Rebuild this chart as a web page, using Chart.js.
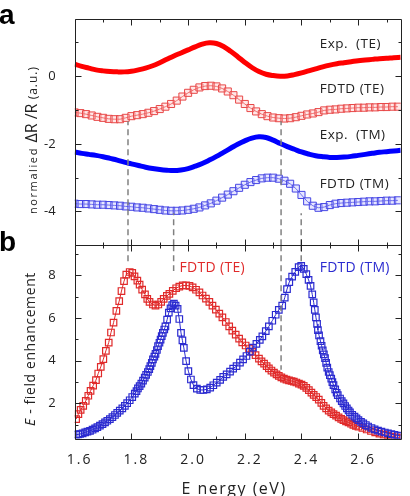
<!DOCTYPE html>
<html><head><meta charset="utf-8">
<script src="https://cdn.jsdelivr.net/npm/chart.js@4/dist/chart.umd.min.js"></script>
<style>
html,body{margin:0;padding:0;background:#fff;}
#wrap{position:relative;width:410px;height:496px;overflow:hidden;font-family:"Open Sans",sans-serif;}
canvas{position:absolute;left:0;top:0;}
.lab{position:absolute;font-family:"Liberation Sans",Arial,sans-serif;font-weight:bold;font-size:28px;line-height:1;color:#000;}
.yt{position:absolute;white-space:nowrap;transform:translate(-50%,-50%) rotate(-90deg);color:#222;line-height:1;}
.xt{position:absolute;white-space:nowrap;transform:translate(-50%,-50%);color:#222;font-size:16px;letter-spacing:1.5px;}
</style></head>
<body><div id="wrap"><canvas id="c" width="410" height="496"></canvas>
<div class="lab" style="left:-1px;top:1px">a</div>
<div class="lab" style="left:-1px;top:228px">b</div>
<div class="yt" style="left:31px;top:140px"><span style="font-size:11px;letter-spacing:1.6px">normalied </span><span style="font-size:16px">ΔR /R </span><span style="font-size:12px;letter-spacing:1px">(a.u.)</span></div>
<div class="yt" style="left:30px;top:349px;font-size:14px;letter-spacing:0.6px"><i>E</i> - field enhancement</div>
<div class="xt" style="left:234px;top:488px">E nergy (eV)</div>
</div>
<script>
// ---------- tick labels ----------
const xTicks = [1.6, 1.8, 2.0, 2.2, 2.4, 2.6];
const xMinor = [1.7, 1.9, 2.1, 2.3, 2.5, 2.7];
const topTicks = [0, -2, -4];
const topMinor = [1, -1, -3];
const botTicks = [2, 4, 6, 8];
const botMinor = [1, 3, 5, 7, 9];

// ---------- panel a: experiment (solid lines) ----------
const expE = [1.600,1.625,1.650,1.675,1.700,1.725,1.750,1.775,1.800,1.825,1.850,1.875,1.900,1.925,1.950,1.975,2.000,2.025,2.050,2.075,2.100,2.125,2.150,2.175,2.200,2.225,2.250,2.275,2.300,2.325,2.350,2.375,2.400,2.425,2.450,2.475,2.500,2.525,2.550,2.575,2.600,2.625,2.650,2.675,2.700,2.725,2.750];
const expTE = [0.36,0.29,0.24,0.19,0.16,0.14,0.13,0.13,0.15,0.19,0.24,0.31,0.40,0.50,0.60,0.69,0.78,0.87,0.95,0.99,0.97,0.88,0.74,0.58,0.41,0.26,0.14,0.06,0.02,0.00,0.01,0.05,0.10,0.16,0.22,0.28,0.33,0.37,0.40,0.43,0.46,0.48,0.50,0.52,0.53,0.55,0.56];
const expTM = [-2.24,-2.28,-2.31,-2.34,-2.38,-2.43,-2.48,-2.54,-2.59,-2.64,-2.69,-2.73,-2.76,-2.78,-2.79,-2.77,-2.73,-2.66,-2.58,-2.48,-2.37,-2.25,-2.13,-2.01,-1.91,-1.83,-1.79,-1.81,-1.89,-1.99,-2.08,-2.16,-2.24,-2.30,-2.35,-2.38,-2.40,-2.40,-2.39,-2.37,-2.34,-2.31,-2.28,-2.25,-2.23,-2.21,-2.19];

// ---------- panel a: FDTD (squares) ----------
const simE = [1.60,1.62,1.64,1.66,1.68,1.70,1.72,1.74,1.76,1.78,1.80,1.82,1.84,1.86,1.88,1.90,1.92,1.94,1.96,1.98,2.00,2.02,2.04,2.06,2.08,2.10,2.12,2.14,2.16,2.18,2.20,2.22,2.24,2.26,2.28,2.30,2.32,2.34,2.36,2.38,2.40,2.42,2.44,2.46,2.48,2.50,2.52,2.54,2.56,2.58,2.60,2.62,2.64,2.66,2.68,2.70,2.72,2.74];
const simTE = [-1.07,-1.09,-1.12,-1.16,-1.20,-1.23,-1.26,-1.27,-1.27,-1.23,-1.18,-1.15,-1.12,-1.08,-1.03,-0.97,-0.90,-0.82,-0.72,-0.60,-0.49,-0.40,-0.33,-0.29,-0.28,-0.30,-0.36,-0.45,-0.56,-0.69,-0.82,-0.94,-1.04,-1.12,-1.18,-1.22,-1.24,-1.25,-1.24,-1.21,-1.17,-1.13,-1.10,-1.06,-1.01,-0.99,-0.98,-0.96,-0.95,-0.94,-0.93,-0.93,-0.92,-0.92,-0.91,-0.91,-0.90,-0.90];
const simTM = [-3.77,-3.78,-3.78,-3.79,-3.80,-3.80,-3.81,-3.82,-3.83,-3.85,-3.86,-3.88,-3.89,-3.91,-3.93,-3.95,-3.97,-3.98,-3.98,-3.97,-3.95,-3.92,-3.88,-3.82,-3.76,-3.68,-3.59,-3.50,-3.40,-3.30,-3.21,-3.13,-3.07,-3.02,-3.00,-3.00,-3.03,-3.09,-3.18,-3.32,-3.51,-3.70,-3.83,-3.89,-3.87,-3.81,-3.77,-3.75,-3.74,-3.73,-3.72,-3.71,-3.70,-3.70,-3.69,-3.68,-3.68,-3.67];

// ---------- panel b: E-field enhancement ----------
const teE = [1.605,1.613,1.621,1.630,1.639,1.648,1.656,1.665,1.675,1.683,1.692,1.701,1.710,1.720,1.728,1.737,1.747,1.757,1.765,1.774,1.782,1.794,1.803,1.811,1.821,1.829,1.838,1.848,1.856,1.864,1.876,1.885,1.895,1.905,1.914,1.925,1.934,1.946,1.958,1.969,1.981,1.993,2.005,2.016,2.028,2.040,2.051,2.063,2.075,2.086,2.098,2.110,2.121,2.133,2.145,2.156,2.168,2.180,2.191,2.203,2.215,2.226,2.238,2.250,2.259,2.268,2.277,2.285,2.294,2.303,2.312,2.320,2.329,2.338,2.347,2.356,2.365,2.373,2.382,2.391,2.400,2.408,2.417,2.426,2.435,2.443,2.452,2.461,2.470,2.478,2.487,2.496,2.505,2.513,2.522,2.531,2.540,2.548,2.557,2.566,2.575,2.583,2.592,2.601,2.615,2.630,2.645,2.660,2.675,2.690,2.705,2.720,2.735,2.750];
const teV = [1.27,1.50,1.70,1.89,2.12,2.36,2.59,2.83,3.09,3.40,3.71,4.07,4.46,4.85,5.32,5.78,6.33,6.79,7.26,7.72,8.03,8.15,8.11,7.95,7.75,7.56,7.33,7.10,6.89,6.75,6.63,6.58,6.63,6.75,6.89,7.03,7.13,7.27,7.39,7.47,7.52,7.52,7.50,7.43,7.32,7.20,7.05,6.90,6.75,6.58,6.39,6.20,6.03,5.81,5.61,5.41,5.22,5.03,4.86,4.71,4.57,4.41,4.26,4.10,3.97,3.86,3.75,3.64,3.54,3.44,3.36,3.29,3.22,3.16,3.11,3.08,3.05,3.02,2.98,2.93,2.88,2.82,2.73,2.62,2.51,2.40,2.30,2.18,2.03,1.89,1.77,1.66,1.58,1.50,1.43,1.35,1.28,1.22,1.16,1.11,1.05,1.00,0.95,0.91,0.85,0.78,0.71,0.65,0.59,0.54,0.49,0.45,0.41,0.38];
const tmE = [1.605,1.612,1.619,1.628,1.637,1.645,1.654,1.663,1.672,1.680,1.689,1.698,1.707,1.715,1.724,1.733,1.742,1.750,1.759,1.768,1.777,1.785,1.794,1.803,1.812,1.818,1.823,1.829,1.835,1.841,1.847,1.852,1.858,1.863,1.867,1.872,1.876,1.881,1.885,1.890,1.894,1.899,1.903,1.907,1.911,1.916,1.920,1.926,1.932,1.938,1.944,1.950,1.956,1.963,1.969,1.975,1.980,1.985,1.993,2.001,2.010,2.019,2.031,2.043,2.054,2.066,2.078,2.089,2.101,2.113,2.124,2.136,2.148,2.159,2.171,2.183,2.194,2.206,2.218,2.229,2.241,2.253,2.262,2.274,2.285,2.297,2.309,2.320,2.332,2.341,2.349,2.357,2.367,2.378,2.390,2.399,2.408,2.417,2.425,2.432,2.438,2.443,2.447,2.451,2.455,2.458,2.462,2.467,2.471,2.475,2.479,2.483,2.487,2.491,2.496,2.500,2.505,2.509,2.513,2.519,2.524,2.528,2.536,2.542,2.548,2.554,2.560,2.566,2.571,2.579,2.587,2.594,2.601,2.610,2.618,2.627,2.635,2.647,2.658,2.670,2.682,2.694,2.705,2.717,2.728,2.740,2.750];
const tmV = [0.54,0.55,0.57,0.60,0.65,0.68,0.72,0.77,0.83,0.89,0.96,1.03,1.11,1.19,1.27,1.36,1.46,1.56,1.66,1.77,1.89,2.01,2.15,2.30,2.46,2.58,2.70,2.81,2.93,3.07,3.21,3.34,3.47,3.61,3.75,3.90,4.06,4.19,4.32,4.50,4.68,4.84,4.99,5.15,5.30,5.46,5.61,5.92,6.25,6.45,6.60,6.67,6.58,6.42,5.95,5.30,4.95,4.60,3.98,3.51,3.12,2.86,2.69,2.63,2.63,2.66,2.74,2.85,2.97,3.10,3.24,3.36,3.49,3.63,3.75,3.91,4.06,4.22,4.42,4.61,4.79,4.97,5.14,5.38,5.61,5.87,6.15,6.38,6.58,6.95,7.35,7.68,7.93,8.16,8.38,8.44,8.30,8.05,7.78,7.50,7.10,6.73,6.38,6.03,5.72,5.43,5.18,4.92,4.70,4.48,4.30,4.12,3.90,3.68,3.47,3.32,3.16,3.00,2.86,2.66,2.50,2.39,2.23,2.11,2.00,1.88,1.77,1.67,1.58,1.47,1.38,1.30,1.22,1.14,1.07,0.99,0.92,0.85,0.79,0.73,0.68,0.64,0.60,0.56,0.53,0.50,0.48];

// ---------- dashed guide lines ----------
const guideE = [1.788, 1.949, 2.328, 2.399];
const guideTopEnd = [-1.33, -4.05, -1.33, -4.05];
const guideBotEnd = [8.48, 8.2, 3.58, 8.6];

const zip = (xs, ys) => xs.map((x, i) => ({x, y: ys[i]}));
function guide(ends, base) {
  const pts = [];
  guideE.forEach((x, i) => { pts.push({x, y: base}, {x, y: ends[i]}, {x: x + 0.001, y: null}); });
  return pts;
}

const framePlugin = {
  id: 'frame',
  afterDraw(chart, args, opts) {
    const ctx = chart.ctx, xs = chart.scales.x, a = chart.chartArea;
    ctx.save();
    ctx.strokeStyle = '#222';
    ctx.lineWidth = 1;
    const panels = [['yTop', topTicks, topMinor], ['yBot', botTicks, botMinor]];
    for (const [id, major, minor] of panels) {
      const s = chart.scales[id];
      const t = Math.round(s.top) + 0.5, b = Math.round(s.bottom) + 0.5;
      const l = Math.round(a.left) + 0.5, r = Math.round(a.right) + 0.5;
      ctx.beginPath();
      ctx.rect(l, t, r - l, b - t);
      const yt = (vals, len) => vals.forEach(v => {
        const y = Math.round(s.getPixelForValue(v)) + 0.5;
        ctx.moveTo(l, y); ctx.lineTo(l + len, y);
        ctx.moveTo(r, y); ctx.lineTo(r - len, y);
      });
      const xt = (vals, len) => vals.forEach(v => {
        const x = Math.round(xs.getPixelForValue(v)) + 0.5;
        ctx.moveTo(x, t); ctx.lineTo(x, t + len);
        ctx.moveTo(x, b); ctx.lineTo(x, b - len);
      });
      yt(major, 6); yt(minor, 3); xt(xTicks, 6); xt(xMinor, 3);
      ctx.stroke();
    }
    // x tick labels
    ctx.textBaseline = 'middle';
    ctx.textAlign = 'center';
    ctx.font = '14px "Open Sans"';
    ctx.fillStyle = '#222';
    ctx.letterSpacing = '2px';
    xTicks.forEach(v => ctx.fillText(v.toFixed(1), xs.getPixelForValue(v) + 5, a.bottom + 21));
    // annotations
    ctx.textAlign = 'left';
    for (const lb of opts.labels) {
      ctx.font = lb.font;
      ctx.fillStyle = lb.color;
      ctx.letterSpacing = lb.sp;
      ctx.fillText(lb.text, xs.getPixelForValue(lb.x), chart.scales[lb.axis].getPixelForValue(lb.y));
    }
    ctx.restore();
  }
};

const RED = '#e02a2a', BLUE = '#2b2bd0';
const lf = '13.5px "Open Sans"';

new Chart(document.getElementById('c'), {
  type: 'line',
  data: {
    datasets: [
      {data: zip(expE, expTE), yAxisID: 'yTop', borderColor: '#ff0000', borderWidth: 5, pointRadius: 0, tension: 0.4, order: 5},
      {data: zip(simE, simTE), yAxisID: 'yTop', borderColor: '#e84848', backgroundColor: 'rgba(255,185,185,0.35)', pointStyle: 'rect', pointRadius: 5, pointBorderWidth: 1, borderWidth: 1, order: 5},
      {data: zip(expE, expTM), yAxisID: 'yTop', borderColor: '#0000ff', borderWidth: 5, pointRadius: 0, tension: 0.4, order: 5},
      {data: zip(simE, simTM), yAxisID: 'yTop', borderColor: '#4646e4', backgroundColor: 'rgba(185,185,255,0.35)', pointStyle: 'rect', pointRadius: 5, pointBorderWidth: 1, borderWidth: 1, order: 5},
      {data: zip(teE, teV), yAxisID: 'yBot', borderColor: RED, backgroundColor: 'rgba(255,255,255,0)', pointStyle: 'rect', pointRadius: 4.6, pointBorderWidth: 1.2, borderWidth: 1, order: 3},
      {data: zip(tmE, tmV), yAxisID: 'yBot', borderColor: BLUE, backgroundColor: 'rgba(255,255,255,0)', pointStyle: 'rect', pointRadius: 4.6, pointBorderWidth: 1.2, borderWidth: 1, order: 2},
      {data: guide(guideTopEnd, -5), yAxisID: 'yTop', borderColor: '#808080', borderWidth: 1.5, borderDash: [6, 4], pointRadius: 0, spanGaps: false, order: 1},
      {data: guide(guideBotEnd, 9.4), yAxisID: 'yBot', borderColor: '#808080', borderWidth: 1.5, borderDash: [6, 4], pointRadius: 0, spanGaps: false, order: 1}
    ]
  },
  options: {
    responsive: false,
    animation: false,
    events: [],
    layout: {padding: {left: 34.7, right: 9.3, top: 16, bottom: 27.3}},
    plugins: {
      legend: {display: false},
      tooltip: {enabled: false},
      frame: {labels: [
        {text: 'Exp.  (TE)', x: 2.464, y: 0.94, axis: 'yTop', color: '#222', font: lf, sp: '0.5px'},
        {text: 'FDTD (TE)', x: 2.464, y: -0.38, axis: 'yTop', color: '#222', font: lf, sp: '0.5px'},
        {text: 'Exp.  (TM)', x: 2.464, y: -1.73, axis: 'yTop', color: '#222', font: lf, sp: '0.5px'},
        {text: 'FDTD (TM)', x: 2.464, y: -3.19, axis: 'yTop', color: '#222', font: lf, sp: '0.5px'},
        {text: 'FDTD (TE)', x: 1.97, y: 8.34, axis: 'yBot', color: RED, font: '14px "Open Sans"', sp: '0.3px'},
        {text: 'FDTD (TM)', x: 2.464, y: 8.34, axis: 'yBot', color: BLUE, font: '14px "Open Sans"', sp: '0.3px'}
      ]}
    },
    scales: {
      x: {
        type: 'linear', min: 1.6, max: 2.75, position: 'bottom',
        grid: {display: false}, border: {display: false},
        afterBuildTicks: s => { s.ticks = xTicks.map(v => ({value: v})); },
        afterFit: s => { s.height = 30; },
        ticks: {display: false}
      },
      yBot: {
        type: 'linear', position: 'left', stack: 'v', stackWeight: 194.7, min: 0.35, max: 9.4,
        grid: {display: false}, border: {display: false},
        afterBuildTicks: s => { s.ticks = botTicks.map(v => ({value: v})); },
        afterFit: s => { s.width = 40; },
        ticks: {padding: 11, color: '#222', font: {family: 'Open Sans', size: 13}}
      },
      yTop: {
        type: 'linear', position: 'left', stack: 'v', stackWeight: 228, min: -5, max: 1.7,
        grid: {display: false}, border: {display: false},
        afterBuildTicks: s => { s.ticks = topTicks.map(v => ({value: v})); },
        afterFit: s => { s.width = 40; },
        ticks: {padding: 11, color: '#222', font: {family: 'Open Sans', size: 13}}
      }
    }
  },
  plugins: [framePlugin]
});
</script>
</body></html>
